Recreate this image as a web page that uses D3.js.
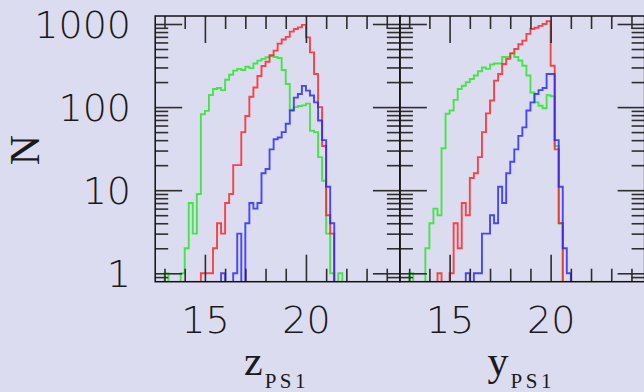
<!DOCTYPE html>
<html><head><meta charset="utf-8">
<script src="https://cdn.jsdelivr.net/npm/d3@7"></script>
<style>html,body{margin:0;padding:0;background:#dcdcf0;} svg{display:block;}</style>
</head><body><svg id="c" width="644" height="392"></svg>
<script>
// ---- data ----
const magBins = [13.0,13.2,13.4,13.6,13.8,14.0,14.2,14.4,14.6,14.8,
                 15.0,15.2,15.4,15.6,15.8,16.0,16.2,16.4,16.6,16.8,
                 17.0,17.2,17.4,17.6,17.8,18.0,18.2,18.4,18.6,18.8,
                 19.0,19.2,19.4,19.6,19.8,20.0,20.2,20.4,20.6,20.8,
                 21.0,21.2,21.4,21.6,21.8];
const binWidth = 0.2;

const zGreen = [1,0,0,0,1,2,7,3,9,82, 90,140,165,170,160,213,245,275,288,280,
                306,294,335,362,380,398,412,400,390,280, 190,93,100,103,105,110,52,50,25,13,
                3,1,0,1,0];
const zRed   = [0,0,0,0,0,0,0,0,0,1, 1,1,2,4,3,7,9,20,20,50,
                78,133,172,237,312,352,420,478,580,650, 700,810,870,910,975,690,455,250,100,34,
                5,3,0,0,0];
const zBlue  = [0,0,0,0,0,0,0,0,0,0, 0,0,0,0,1,0,0,1,3,0,
                4,7,6,7,16,18,31,41,43,50, 63,91,130,144,180,158,138,114,69,40,
                11,4,0,0,0];

const yGreen = [1,0,0,0,2,4,6,5,32,83, 91,122,165,181,200,218,240,270,300,288,
                325,335,335,400,400,443,400,363,315,240, 150,114,104,97,139,135,34,4,0,0,
                0,0,0,0,0];
const yRed   = [0,0,0,0,0,0,0,1,0,0, 1,4,2,7,5,14,16,25,50,84,
                120,208,250,330,380,443,500,570,630,760, 870,900,950,1000,1080,315,31,4,0,0,
                0,0,0,0,0];
const yBlue  = [0,0,0,0,0,0,0,0,0,0, 0,0,0,0,1,0,1,1,3,3,
                5,4,11,7,16,22,31,45,57,91, 114,144,160,170,250,250,40,11,2,1,
                0,0,0,0,0];

const xMajorTicks = [15, 20];
const xMinorTicks = [13, 14, 16, 17, 18, 19, 21, 22, 23, 24];
const yMajorTicks = [1, 10, 100, 1000];
const yMinorTicks = [0.9, 2,3,4,5,6,7,8,9, 20,30,40,50,60,70,80,90, 200,300,400,500,600,700,800,900];
const yTickLabels = ["1", "10", "100", "1000"];
const xTickLabels = ["15", "20"];
const bandNames = ["z", "y"];
const yAxisTitle = "N";
const subscript = "PS1";

// ---- layout ----
const svg = d3.select("#c");
svg.append("rect").attr("width", 644).attr("height", 392).attr("fill", "#dcdcf0");

const plotTop = 16, plotBottom = 281.7, panelW = 244.7;
const panelLefts = [155.2, 399.9];
const xDomain = [12.54, 24.65];
const yDomain = [0.792, 1248];
const colors = { green: "#22e622", red: "#ff2020", blue: "#2424ff" };

const panels = [
  { band: bandNames[0], series: [["green", zGreen], ["red", zRed], ["blue", zBlue]] },
  { band: bandNames[1], series: [["green", yGreen], ["red", yRed], ["blue", yBlue]] }
];

const tickColor = "#2e2e2e";

panels.forEach((p, pi) => {
  const L = panelLefts[pi], R = L + panelW;
  const x = d3.scaleLinear().domain(xDomain).range([L, R]);
  const y = d3.scaleLog().domain(yDomain).range([plotBottom, plotTop]);
  const g = svg.append("g");

  const clipId = "clip" + pi;
  svg.append("clipPath").attr("id", clipId)
    .append("rect").attr("x", L).attr("y", plotTop).attr("width", panelW).attr("height", plotBottom - plotTop);

  const yv = c => c > 0 ? y(c) : plotBottom + 5;
  const line = d3.line().curve(d3.curveStepAfter);

  p.series.forEach(([name, counts]) => {
    const pts = [[x(magBins[0]), plotBottom + 5]];
    counts.forEach((c, i) => pts.push([x(magBins[i]), yv(c)]));
    const lastEdge = magBins[magBins.length - 1] + binWidth;
    pts.push([x(lastEdge), plotBottom + 5]);
    g.append("path")
      .attr("clip-path", `url(#${clipId})`)
      .attr("d", line(pts))
      .attr("fill", "none")
      .attr("stroke", colors[name])
      .attr("stroke-width", 1.9)
      .attr("stroke-opacity", 0.82)
      .attr("stroke-linejoin", "miter");
  });

  const addAxis = (axis, tx, ty) => {
    const a = g.append("g").attr("transform", `translate(${tx},${ty})`).call(axis);
    a.select(".domain").remove();
    a.selectAll("line").attr("stroke", tickColor).attr("stroke-width", 1.6);
    a.selectAll("text").remove();
  };
  const majorLen = 27, minorLen = 13;
  addAxis(d3.axisBottom(x).tickValues(xMajorTicks).tickSize(-majorLen).tickFormat(""), 0, plotBottom);
  addAxis(d3.axisBottom(x).tickValues(xMinorTicks).tickSize(-minorLen).tickFormat(""), 0, plotBottom);
  addAxis(d3.axisTop(x).tickValues(xMajorTicks).tickSize(-majorLen).tickFormat(""), 0, plotTop);
  addAxis(d3.axisTop(x).tickValues(xMinorTicks).tickSize(-minorLen).tickFormat(""), 0, plotTop);
  addAxis(d3.axisLeft(y).tickValues(yMajorTicks).tickSize(-majorLen).tickFormat(""), L, 0);
  addAxis(d3.axisLeft(y).tickValues(yMinorTicks).tickSize(-minorLen).tickFormat(""), L, 0);
  addAxis(d3.axisRight(y).tickValues(yMajorTicks).tickSize(-majorLen).tickFormat(""), R, 0);
  addAxis(d3.axisRight(y).tickValues(yMinorTicks).tickSize(-minorLen).tickFormat(""), R, 0);

  g.append("rect").attr("x", L).attr("y", plotTop).attr("width", panelW).attr("height", plotBottom - plotTop)
    .attr("fill", "none").attr("stroke", "#111").attr("stroke-width", 1.5);

  const xl = g.append("g").attr("transform", `translate(0,${plotBottom})`)
    .call(d3.axisBottom(x).tickValues(xMajorTicks).tickSize(0).tickPadding(24.5)
      .tickFormat((d, i) => xTickLabels[i]));
  xl.select(".domain").remove();
  xl.selectAll("text").attr("font-family", "DejaVu Sans").attr("font-weight", 300)
    .attr("font-size", 38).attr("fill", "#1a1a1a");

  if (pi === 0) {
    const yl = g.append("g").attr("transform", `translate(${L},0)`)
      .call(d3.axisLeft(y).tickValues(yMajorTicks).tickSize(0).tickPadding(L - 131)
        .tickFormat((d, i) => yTickLabels[i]));
    yl.select(".domain").remove();
    yl.selectAll("text").attr("font-family", "DejaVu Sans").attr("font-weight", 300)
      .attr("font-size", 38).attr("fill", "#1a1a1a").attr("dy", "0.36em");
  }

  const t = g.append("text").attr("x", (L + R) / 2 - 1).attr("y", 375)
    .attr("text-anchor", "middle").attr("font-family", "Liberation Serif")
    .attr("font-size", 42).attr("fill", "#1a1a1a");
  t.append("tspan").text(p.band);
  t.append("tspan").attr("dx", 2).attr("dy", 13).attr("font-size", 21).attr("letter-spacing", 3.5).text(subscript);
});

svg.append("text")
  .attr("transform", "translate(24,150) rotate(-90)")
  .attr("text-anchor", "middle").attr("dy", "0.35em")
  .attr("font-family", "Liberation Serif").attr("font-size", 42).attr("fill", "#1a1a1a")
  .text(yAxisTitle);
</script>
</body></html>
